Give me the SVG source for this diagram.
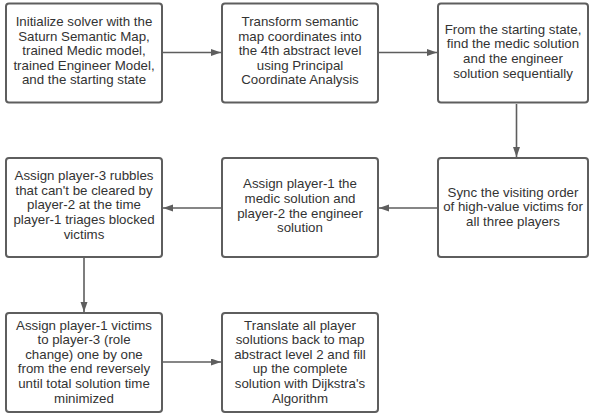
<svg xmlns="http://www.w3.org/2000/svg" width="590" height="416" viewBox="0 0 590 416">
<style>
.box{fill:#fff;stroke:#5e5e5e;stroke-width:2}
.t{font-family:"Liberation Sans",Arial,sans-serif;font-size:13.3px;fill:#333;text-anchor:middle}
.c{stroke:#5e5e5e;stroke-width:1.6;fill:none}
</style>
<defs>
<marker id="ah" markerWidth="10" markerHeight="8" refX="10" refY="3.5" orient="auto" markerUnits="userSpaceOnUse">
<path d="M0,0 L10,3.5 L0,7 Z" fill="#5e5e5e"/>
</marker>
</defs>
<rect width="590" height="416" fill="#fff"/>
<g id="connectors">
<line class="c" x1="163" y1="52.5" x2="221" y2="52.5" marker-end="url(#ah)"/>
<line class="c" x1="379" y1="52.5" x2="437" y2="52.5" marker-end="url(#ah)"/>
<line class="c" x1="516.5" y1="104" x2="516.5" y2="157" marker-end="url(#ah)"/>
<line class="c" x1="437" y1="208" x2="379" y2="208" marker-end="url(#ah)"/>
<line class="c" x1="221" y1="208" x2="163" y2="208" marker-end="url(#ah)"/>
<line class="c" x1="84" y1="258" x2="84" y2="312" marker-end="url(#ah)"/>
<line class="c" x1="163" y1="362" x2="221" y2="362" marker-end="url(#ah)"/>
</g>
<g id="n1">
<rect class="box" x="6" y="3.5" width="156" height="99" rx="3"/>
<text class="t"><tspan x="84" y="26">Initialize solver with the</tspan><tspan x="84" y="40.6">Saturn Semantic Map,</tspan><tspan x="84" y="55.2">trained Medic model,</tspan><tspan x="84" y="69.8">trained Engineer Model,</tspan><tspan x="84" y="84.4">and the starting state</tspan></text>
</g>
<g id="n2">
<rect class="box" x="222" y="3.5" width="156" height="99" rx="3"/>
<text class="t"><tspan x="300" y="26">Transform semantic</tspan><tspan x="300" y="40.6">map coordinates into</tspan><tspan x="300" y="55.2">the 4th abstract level</tspan><tspan x="300" y="69.8">using Principal</tspan><tspan x="300" y="84.4">Coordinate Analysis</tspan></text>
</g>
<g id="n3">
<rect class="box" x="438" y="3.5" width="150" height="99" rx="3"/>
<text class="t"><tspan x="513" y="33.8">From the starting state,</tspan><tspan x="513" y="48.4">find the medic solution</tspan><tspan x="513" y="63">and the engineer</tspan><tspan x="513" y="77.6">solution sequentially</tspan></text>
</g>
<g id="n4">
<rect class="box" x="6" y="158" width="156" height="99" rx="3"/>
<text class="t"><tspan x="84" y="180.2">Assign player-3 rubbles</tspan><tspan x="84" y="194.8">that can't be cleared by</tspan><tspan x="84" y="209.4">player-2 at the time</tspan><tspan x="84" y="224">player-1 triages blocked</tspan><tspan x="84" y="238.6">victims</tspan></text>
</g>
<g id="n5">
<rect class="box" x="222" y="158" width="156" height="99" rx="3"/>
<text class="t"><tspan x="300" y="188.3">Assign player-1 the</tspan><tspan x="300" y="202.9">medic solution and</tspan><tspan x="300" y="217.5">player-2 the engineer</tspan><tspan x="300" y="232.1">solution</tspan></text>
</g>
<g id="n6">
<rect class="box" x="438" y="158" width="150" height="99" rx="3"/>
<text class="t"><tspan x="513" y="196.8">Sync the visiting order</tspan><tspan x="513" y="211.4">of high-value victims for</tspan><tspan x="513" y="226">all three players</tspan></text>
</g>
<g id="n7">
<rect class="box" x="6" y="313" width="156" height="99" rx="3"/>
<text class="t"><tspan x="84" y="329.5">Assign player-1 victims</tspan><tspan x="84" y="344.1">to player-3 (role</tspan><tspan x="84" y="358.7">change) one by one</tspan><tspan x="84" y="373.3">from the end reversely</tspan><tspan x="84" y="387.9">until total solution time</tspan><tspan x="84" y="402.5">minimized</tspan></text>
</g>
<g id="n8">
<rect class="box" x="222" y="313" width="156" height="99" rx="3"/>
<text class="t"><tspan x="300" y="329.5">Translate all player</tspan><tspan x="300" y="344.1">solutions back to map</tspan><tspan x="300" y="358.7">abstract level 2 and fill</tspan><tspan x="300" y="373.3">up the complete</tspan><tspan x="300" y="387.9">solution with Dijkstra's</tspan><tspan x="300" y="402.5">Algorithm</tspan></text>
</g>
</svg>
